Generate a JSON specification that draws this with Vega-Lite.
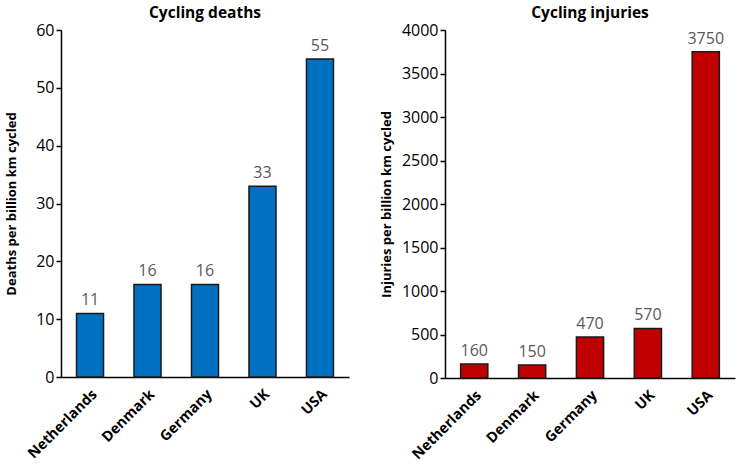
{
  "$schema": "https://vega.github.io/schema/vega-lite/v6.json",
  "background": "white",
  "padding": {"left": 5, "top": 5, "right": 5, "bottom": 5},
  "datasets": {
    "deaths": [
      {"country": "Netherlands", "value": 11},
      {"country": "Denmark", "value": 16},
      {"country": "Germany", "value": 16},
      {"country": "UK", "value": 33},
      {"country": "USA", "value": 55}
    ],
    "injuries": [
      {"country": "Netherlands", "value": 160},
      {"country": "Denmark", "value": 150},
      {"country": "Germany", "value": 470},
      {"country": "UK", "value": 570},
      {"country": "USA", "value": 3750}
    ]
  },
  "config": {
    "font": "Open Sans",
    "view": {"stroke": null},
    "axis": {"grid": false, "domainColor": "#000000", "tickColor": "#000000", "labelColor": "#000000", "titleColor": "#000000", "domainWidth": 1.5, "tickWidth": 1.5},
    "title": {"fontSize": 15.5, "fontWeight": "bold", "color": "#000000", "offset": 1}
  },
  "spacing": 31,
  "hconcat": [
    {
      "width": 288,
      "height": 347,
      "title": "Cycling deaths",
      "data": {"name": "deaths"},
      "encoding": {
        "x": {"field": "country", "type": "nominal", "sort": null, "scale": {"paddingInner": 0.53, "paddingOuter": 0.27},
          "axis": {"title": null, "labelAngle": -45, "labelFontSize": 14.5, "labelFontWeight": "bold", "ticks": false, "labelPadding": 10}},
        "y": {"field": "value", "type": "quantitative", "scale": {"domain": [0, 60]},
          "axis": {"title": "Deaths per billion km cycled", "titleFontSize": 13, "titleFontWeight": "bold", "labelFontSize": 16, "format": "d", "values": [0, 10, 20, 30, 40, 50, 60], "tickSize": 5, "labelPadding": 2, "titlePadding": 17}}
      },
      "layer": [
        {"mark": {"type": "bar", "color": "#0070C0", "stroke": "#1a1a1a", "strokeWidth": 1.5}},
        {"mark": {"type": "text", "dy": -13, "fontSize": 16, "color": "#595959"}, "encoding": {"text": {"field": "value"}}}
      ]
    },
    {
      "width": 290,
      "height": 348,
      "title": "Cycling injuries",
      "data": {"name": "injuries"},
      "encoding": {
        "x": {"field": "country", "type": "nominal", "sort": null, "scale": {"paddingInner": 0.53, "paddingOuter": 0.27},
          "axis": {"title": null, "labelAngle": -45, "labelFontSize": 14.5, "labelFontWeight": "bold", "ticks": false, "labelPadding": 10}},
        "y": {"field": "value", "type": "quantitative", "scale": {"domain": [0, 4000]},
          "axis": {"title": "Injuries per billion km cycled", "titleFontSize": 13, "titleFontWeight": "bold", "labelFontSize": 16, "format": "d", "values": [0, 500, 1000, 1500, 2000, 2500, 3000, 3500, 4000], "tickSize": 5, "labelPadding": 2, "titlePadding": 8}}
      },
      "layer": [
        {"mark": {"type": "bar", "color": "#C00000", "stroke": "#1a1a1a", "strokeWidth": 1.5}},
        {"mark": {"type": "text", "dy": -13, "fontSize": 16, "color": "#595959"}, "encoding": {"text": {"field": "value"}}}
      ]
    }
  ]
}
